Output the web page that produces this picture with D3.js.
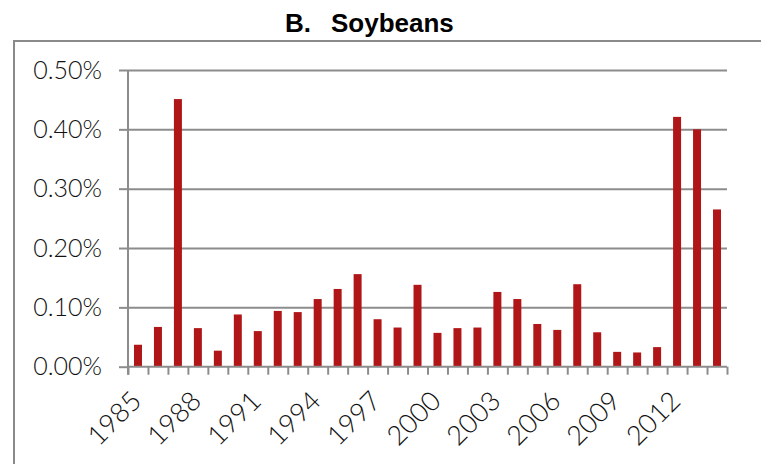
<!DOCTYPE html>
<html>
<head>
<meta charset="utf-8">
<script src="https://cdn.jsdelivr.net/npm/d3@7"></script>
<style>
  body { margin: 0; background: #fff; }
  .axis text { font-family: "Lato", "DejaVu Sans", sans-serif; font-weight: 300; fill: #111; }
  .axis path, .axis line { stroke: #8c8c8c; }
</style>
</head>
<body>
<svg id="chart" width="761" height="464"></svg>
<script>
(function () {
  'use strict';

  // data
  var years = d3.range(1985, 2015).map(String);
  var values = [0.037, 0.067, 0.451, 0.065, 0.027, 0.088, 0.060, 0.094, 0.092, 0.114,
                0.131, 0.156, 0.080, 0.066, 0.138, 0.057, 0.065, 0.066, 0.126, 0.114,
                0.072, 0.062, 0.139, 0.058, 0.025, 0.024, 0.033, 0.421, 0.400, 0.265];
  var yTicks = [0, 0.001, 0.002, 0.003, 0.004, 0.005];
  var xLabels = ["1985", "1988", "1991", "1994", "1997", "2000", "2003", "2006", "2009", "2012"];
  var title = ["B.", "Soybeans"];

  var data = years.map(function (d, i) { return { year: d, value: values[i] / 100 }; });

  var svg = d3.select("#chart"),
      margin = { top: 70, right: 34, bottom: 97.3, left: 128 },
      width = +svg.attr("width") - margin.left - margin.right,
      height = +svg.attr("height") - margin.top - margin.bottom;

  // outer frame (only top and left edges visible)
  svg.append("path")
    .attr("d", "M14,470V41H770")
    .attr("fill", "none")
    .attr("stroke", "#8a8a8a")
    .attr("stroke-width", 2);

  // title
  var t = svg.append("text")
    .attr("y", 31.5)
    .style("font-family", "'Liberation Sans', Arial, sans-serif")
    .style("font-weight", "bold")
    .style("font-size", "26px")
    .attr("fill", "#000");
  t.append("tspan").attr("x", 285).text(title[0]);
  t.append("tspan").attr("x", 331).text(title[1]);

  var x = d3.scaleBand().domain(years).range([0, width]).paddingInner(0.6).paddingOuter(0.3),
      xb = d3.scaleLinear().domain([0, years.length]).range([0, width]),
      y = d3.scaleLinear().domain([0, 0.005]).range([height, 0]);

  var g = svg.append("g")
    .attr("transform", "translate(" + margin.left + "," + margin.top + ")");

  // gridlines
  g.append("g")
    .attr("class", "axis grid")
    .call(d3.axisLeft(y).tickValues(yTicks.slice(1)).tickSize(-width).tickFormat(""))
    .call(function (s) { s.select(".domain").remove(); })
    .selectAll("line").attr("stroke-width", 2);

  // bars
  g.selectAll(".bar")
    .data(data)
    .enter().append("rect")
    .attr("class", "bar")
    .attr("x", function (d) { return x(d.year); })
    .attr("y", function (d) { return y(d.value); })
    .attr("width", x.bandwidth())
    .attr("height", function (d) { return height - y(d.value); })
    .attr("fill", "#b01518");

  // y axis
  var yAxis = g.append("g")
    .attr("class", "axis axis--y")
    .call(d3.axisLeft(y).tickValues(yTicks).tickSize(9).tickPadding(17).tickFormat(d3.format(".2%")));
  yAxis.select(".domain").attr("stroke-width", 2).attr("d", "M0,0V" + (height + 8));
  yAxis.selectAll("line").attr("stroke-width", 2);
  yAxis.selectAll("text").style("font-size", "25px");

  // x axis: ticks between categories
  var xAxis = g.append("g")
    .attr("class", "axis axis--x")
    .attr("transform", "translate(0," + height + ")")
    .call(d3.axisBottom(xb).tickValues(d3.range(years.length + 1)).tickSize(8).tickFormat(""));
  xAxis.select(".domain").attr("stroke-width", 2).attr("d", "M0,0H" + width);
  xAxis.selectAll("line").attr("stroke-width", 2);

  // x labels
  g.append("g")
    .attr("class", "axis axis--labels")
    .attr("transform", "translate(0," + height + ")")
    .call(d3.axisBottom(x).tickValues(xLabels).tickSize(0))
    .call(function (s) { s.select(".domain").remove(); })
    .selectAll("text")
    .style("font-size", "27px")
    .style("text-anchor", "end")
    .attr("dy", null)
    .attr("y", 0)
    .attr("transform", "translate(5,36) rotate(-45)");
})();
</script>
</body>
</html>
